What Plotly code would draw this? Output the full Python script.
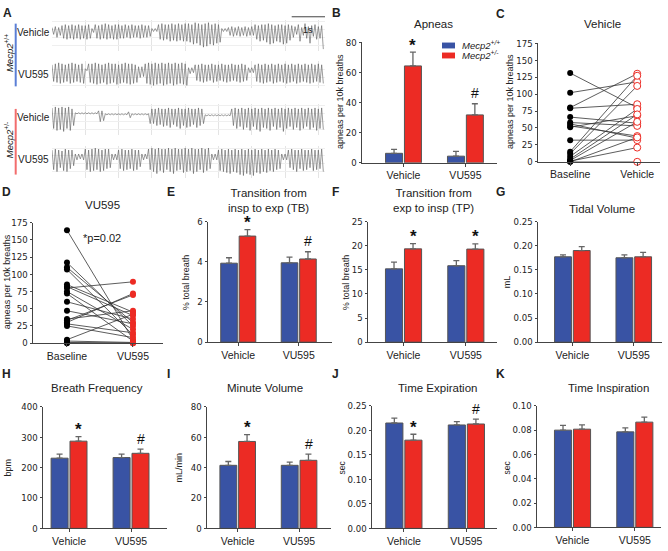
import plotly.graph_objects as go

W, H = 668, 551
FONT = "Liberation Sans, Arial, sans-serif"
NFONT = "Liberation Sans Narrow, Arial Narrow, DejaVu Sans Condensed, Liberation Sans, sans-serif"
BLUE = "#3953a4"
RED = "#ec2b24"
AX = "#444444"

# ---------------- Panel A: plethysmography traces (per-breath peak / trough, px-like units) ----------------
dt = 0.05
wt_veh_up = [2,3,2, 4,5,4,5,4,5,4,4,5, 1, 5,4,5,6,5,4,5,5,4,5,4,5,4,4,5,4,4, 1,1,
             5,6,5,5,6,5,6,5,6, 6,5,7,6,5,6,7,5,6,5, 1,1, 2,3,2,3,2,3,2,3,
             5,4,5,5,6,5,4,5,5,4,5, 4,3,5,2,6,3,4,5,3,4]
wt_veh_dn = [-5,-8,-6, -9,-10,-9,-10,-9,-10,-9,-10,-9, -3,
             -9,-10,-9,-10,-9,-10,-10,-9,-9,-8,-9,-8,-8,-9,-8,-8,-7, -2,-2,
             -10,-11,-10,-12,-11,-12,-11,-12,-12, -13,-15,-14,-16,-18,-17,-15,-16,-14,-13, -2,-2,
             -6,-7,-6,-7,-6,-7,-6,-6, -10,-12,-11,-13,-15,-14,-12,-13,-15,-14,-11,
             -8,-5,-12,-6,-9,-14,-7,-10,-9,-20]
wt_vu_up = [5,6,7,6,5,6,7,6,5,6, 1, 6,6,7,6,5,6,7,6,6,5,6,7,6,6,5, 3,3,
            6,7,6,7,6,7,6,7,6,7,6,7,6, 2,2, 5,5,6,5,5,6,5,5,6,5,5,6,5,5,6,5, 2,2,
            5,6,5,6,5,6,5,6,5,6,5,6,5,6,5,6,5,6,5,6,5]
wt_vu_dn = [-12,-13,-14,-13,-12,-14,-13,-12,-13,-14, -1,
            -13,-14,-15,-14,-13,-15,-14,-13,-15,-14,-13,-14,-15,-14,-13, -8,-7,
            -14,-15,-16,-15,-14,-16,-15,-14,-16,-15,-14,-15,-16, -4,-3,
            -11,-12,-13,-12,-11,-13,-12,-11,-12,-13,-12,-11,-12,-13,-12,-11, -3,-3,
            -12,-13,-14,-13,-12,-14,-13,-12,-13,-14,-13,-12,-14,-13,-12,-13,-14,-13,-12,-13,-14]
het_veh_up = [6,7,6,7,6,7,5, 1,1,1,1,1,1,1, 3,3, 0,0,0,0,0,0,0, 2, 0,0,0,0,0, 0,
              5,5,6,5,5,6,5,5,6,5,5,6,5,5,6,5, -1,-1,-1,-1,-1,-1,-1,-1,
              5,6,5,6,5,6,5,6,5,6,5,6,5,6,5,6,5,6,5,6,5,6,5,6,5,6,5,6]
het_veh_dn = [-15,-17,-16,-18,-15,-17,-12, 0,0,0,0,0,0,0, -8,-7, -1,-1,-1,-1,-1,-1,-1, -4,
              -1,-1,-1,-1,-1, -10,
              -10,-12,-11,-13,-12,-14,-11,-13,-15,-12,-14,-13,-11,-14,-12,-10,
              -2,-2,-2,-2,-2,-2,-2,-2,
              -12,-15,-13,-16,-14,-17,-13,-16,-18,-14,-15,-17,-13,-16,-14,-18,-15,-13,-16,-14,
              -17,-15,-13,-16,-14,-17,-15,-16]
het_vu_up = [6,7,6,5,7,6,6, 2,2,2, 7,6,7,8,7,6,7,7, 2,2, 6,7,6,6,7,6,6, 2,2,
             7,8,7,8,7,7,8,7,8,7,7,8,7,8,7,7,8,7,8, 2,2,
             6,7,6,7,6,7,6,7,6,7,6,7,6,7,6,7,6,7,6, 2,2, 6,7,6,6,7,6,6,7,6,6,7]
het_vu_dn = [-14,-16,-12,-15,-16,-13,-10, -4,-3,-4, -14,-16,-15,-14,-16,-15,-13,-12, -4,-4,
             -13,-15,-14,-13,-15,-14,-11, -4,-3,
             -14,-16,-18,-15,-17,-14,-16,-18,-15,-14,-17,-16,-15,-18,-16,-14,-17,-15,-13, -4,-4,
             -15,-16,-17,-18,-16,-17,-19,-20,-18,-19,-20,-17,-18,-16,-17,-15,-16,-14,-13, -4,-4,
             -12,-14,-16,-13,-15,-14,-12,-15,-14,-13,-16]

# ---------------- Bar panels ----------------
groups = ["Vehicle", "VU595"]
apnea_wt, apnea_wt_err = [6.3, 4.4], [2.6, 3.2]
apnea_het, apnea_het_err = [64.3, 31.8], [9.2, 7.4]
tb_wt, tb_wt_err = [3.93, 3.95], [0.27, 0.28]
tb_het, tb_het_err = [5.28, 4.14], [0.32, 0.36]
tp_wt, tp_wt_err = [15.2, 15.85], [1.4, 1.05]
tp_het, tp_het_err = [19.35, 19.3], [1.1, 1.1]
tv_wt, tv_wt_err = [0.177, 0.175], [0.004, 0.006]
tv_het, tv_het_err = [0.190, 0.177], [0.008, 0.009]
bf_wt, bf_wt_err = [231, 233], [13, 11]
bf_het, bf_het_err = [287, 247], [15, 14]
mv_wt, mv_wt_err = [41.5, 41.5], [2.5, 2.1]
mv_het, mv_het_err = [57.2, 44.8], [4.5, 4.0]
te_wt, te_wt_err = [0.215, 0.211], [0.010, 0.007]
te_het, te_het_err = [0.180, 0.213], [0.012, 0.010]
ti_wt, ti_wt_err = [0.0800, 0.0786], [0.0040, 0.0033]
ti_het, ti_het_err = [0.0808, 0.0866], [0.0035, 0.0042]

# ---------------- Paired panels C / D ----------------
c_baseline = [131, 102, 80, 79, 66, 58, 56, 53, 51, 32, 15, 12, 8, 4, 2, 1, 0, 0]
c_vehicle = [80, 118, 130, 85, 57, 53, 35, 38, 68, 32, 127, 112, 78, 70, 59, 21, 0, 36]
d_baseline = [164, 117, 110, 107, 85, 82, 80, 75, 72, 60, 47, 35, 33, 30, 28, 25, 5, 3, 1, 0]
d_vu595 = [5, 25, 30, 12, 45, 40, 89, 20, 3, 35, 28, 47, 70, 72, 15, 8, 42, 1, 0, 0]

fig = go.Figure()
layout = dict(width=W, height=H, margin=dict(l=0, r=0, t=0, b=0),
              paper_bgcolor="white", plot_bgcolor="white", showlegend=False,
              font=dict(family=FONT, size=10, color="#222"),
              barmode="group", bargap=0.39, bargroupgap=0.1)
annotations, shapes = [], []
n_ax = [0]


def axes(x0, x1, ytop, ybot, xa, ya):
    n_ax[0] += 1
    s = "" if n_ax[0] == 1 else str(n_ax[0])
    layout["xaxis" + s] = dict(domain=[x0 / W, x1 / W], anchor="y" + s, **xa)
    layout["yaxis" + s] = dict(domain=[1 - ybot / H, 1 - ytop / H], anchor="x" + s, **ya)
    return "x" + s, "y" + s


def ann(text, x, y, size=10, bold=False, angle=0, xanchor="center", yanchor="middle", color="#222", family=FONT):
    if bold:
        text = "<b>" + text + "</b>"
    annotations.append(dict(text=text, x=x / W, y=1 - y / H, xref="paper", yref="paper",
                            showarrow=False, textangle=angle, xanchor=xanchor, yanchor=yanchor,
                            font=dict(size=size, color=color, family=family)))


# ---- Panel A ----
trace_rows = [(wt_veh_up, wt_veh_dn, 14, 46, [-22, 10]),
              (wt_vu_up, wt_vu_dn, 56, 84, [-19, 9]),
              (het_veh_up, het_veh_dn, 100, 132, [-22, 10]),
              (het_vu_up, het_vu_dn, 143, 175, [-22, 10])]
first_ax = None
for up, dn, yt, yb, yr in trace_rows:
    xa = dict(range=[0, 8.2], showgrid=True, gridcolor="#e4e4e4", gridwidth=1, dtick=1, tick0=0,
              showticklabels=False, zeroline=False, showline=False, ticks="")
    ya = dict(range=yr, showgrid=True, gridcolor="#efefef", dtick=8, tick0=0,
              showticklabels=False, zeroline=False, showline=False, ticks="")
    xr, yrf = axes(52, 325, yt, yb, xa, ya)
    if first_ax is None:
        first_ax = xr
    sig = []
    for u, d in zip(up, dn):
        sig += [u, d]
    t = [k * dt for k in range(len(sig))]
    fig.add_trace(go.Scatter(x=t, y=sig, mode="lines", line=dict(color="#5a5a5a", width=0.6),
                             xaxis=xr, yaxis=yrf, hoverinfo="skip"))

# scale bar (1 s) in trace time units
shapes.append(dict(type="line", xref=first_ax, yref="paper", x0=7.2, x1=8.2,
                   y0=1 - 11 / H, y1=1 - 11 / H, line=dict(color="#444", width=1)))
annotations.append(dict(text="1s", xref=first_ax, yref="paper", x=7.7, y=1 - 17 / H, showarrow=False,
                        font=dict(size=9, family=FONT, color="#222")))
shapes.append(dict(type="line", xref="paper", yref="paper", x0=15.7 / W, x1=15.7 / W,
                   y0=1 - 18 / H, y1=1 - 82 / H, line=dict(color="#5b7fd6", width=2)))
shapes.append(dict(type="line", xref="paper", yref="paper", x0=15.7 / W, x1=15.7 / W,
                   y0=1 - 105 / H, y1=1 - 172 / H, line=dict(color="#f26d6d", width=2)))
ann("<i>Mecp2</i><sup>+/+</sup>", 9, 48, size=9.5, angle=-90)
ann("<i>Mecp2</i><sup>+/-</sup>", 9, 137, size=9.5, angle=-90)
for txt, yy in [("Vehicle", 27), ("VU595", 70), ("Vehicle", 114), ("VU595", 157)]:
    ann(txt, 33, yy, size=10)

# ---- bar panels ----
common_y = dict(showline=True, linecolor=AX, linewidth=1, ticks="outside", ticklen=2.5, tickcolor=AX,
                tickwidth=1, showgrid=False, zeroline=False,
                tickfont=dict(size=9.5, color="#222", family=NFONT))


def xcat(rng, cats):
    return dict(type="category", categoryorder="array", categoryarray=cats, range=rng,
                showline=True, linecolor=AX, linewidth=1, ticks="outside", ticklen=3, tickcolor=AX,
                showgrid=False, zeroline=False, tickfont=dict(size=10.5, color="#222"))


def bar_panel(x0, x1, ytop, ybot, xrng, yrange, dtick, fmt, wt, wte, het, hete, sig):
    ya = dict(common_y, range=yrange, dtick=dtick, tick0=0, tickformat=fmt)
    xr, yr = axes(x0, x1, ytop, ybot, xcat(xrng, groups), ya)
    for vals, errs, col in [(wt, wte, BLUE), (het, hete, RED)]:
        fig.add_trace(go.Bar(x=groups, y=vals, xaxis=xr, yaxis=yr,
                             marker=dict(color=col, line=dict(color="#555", width=1)),
                             error_y=dict(type="data", array=errs, arrayminus=[0] * len(errs),
                                          symmetric=False, color="#666", thickness=1.3, width=3),
                             hoverinfo="skip"))
    for g, s in sig:
        i = groups.index(g)
        top = het[i] + hete[i]
        if s == "*":
            annotations.append(dict(text="<b>*</b>", xref=xr, yref=yr, x=g, y=top, xshift=9.5,
                                    yshift=18.5, yanchor="top", showarrow=False,
                                    font=dict(size=17, family=FONT, color="#111")))
        else:
            annotations.append(dict(text=s, xref=xr, yref=yr, x=g, y=top, xshift=9.5,
                                    yshift=0.5, yanchor="bottom", showarrow=False,
                                    font=dict(size=14, family=FONT, color="#111")))


bar_panel(362, 497, 37, 160, [-0.67, 1.51], [0, 80], 20, "", apnea_wt, apnea_wt_err, apnea_het, apnea_het_err,
          [("Vehicle", "*"), ("VU595", "#")])
bar_panel(208, 332, 220, 343, [-0.5, 1.55], [0, 6], 2, "", tb_wt, tb_wt_err, tb_het, tb_het_err,
          [("Vehicle", "*"), ("VU595", "#")])
bar_panel(368, 497, 220, 343, [-0.57, 1.5], [0, 25], 5, "", tp_wt, tp_wt_err, tp_het, tp_het_err,
          [("Vehicle", "*"), ("VU595", "*")])
bar_panel(538, 662, 220, 343, [-0.56, 1.46], [0, 0.25], 0.05, ".2f", tv_wt, tv_wt_err, tv_het, tv_het_err, [])
bar_panel(43, 167, 409, 533, [-0.42, 1.58], [0, 400], 100, "", bf_wt, bf_wt_err, bf_het, bf_het_err,
          [("Vehicle", "*"), ("VU595", "#")])
bar_panel(207, 331, 409, 533, [-0.5, 1.52], [0, 80], 20, "", mv_wt, mv_wt_err, mv_het, mv_het_err,
          [("Vehicle", "*"), ("VU595", "#")])
bar_panel(372, 497, 408, 533, [-0.51, 1.49], [0, 0.25], 0.05, ".2f", te_wt, te_wt_err, te_het, te_het_err,
          [("Vehicle", "*"), ("VU595", "#")])
bar_panel(537, 661, 408, 532, [-0.57, 1.42], [0, 0.10], 0.02, ".2f", ti_wt, ti_wt_err, ti_het, ti_het_err, [])


# ---- paired panels ----
def paired_panel(x0, x1, ytop, ybot, xrng, cats, base, post, post_marker):
    ya = dict(common_y, range=[0, 175], dtick=25, tick0=0)
    xr, yr = axes(x0, x1, ytop, ybot, xcat(xrng, cats), ya)
    lx, ly = [], []
    for b, p in zip(base, post):
        lx += [cats[0], cats[1], None]
        ly += [b, p, None]
    fig.add_trace(go.Scatter(x=lx, y=ly, mode="lines", line=dict(color="#333", width=0.8),
                             xaxis=xr, yaxis=yr, hoverinfo="skip", cliponaxis=False))
    fig.add_trace(go.Scatter(x=[cats[0]] * len(base), y=base, mode="markers",
                             marker=dict(color="#000", size=6), xaxis=xr, yaxis=yr,
                             hoverinfo="skip", cliponaxis=False))
    fig.add_trace(go.Scatter(x=[cats[1]] * len(post), y=post, mode="markers",
                             marker=post_marker, xaxis=xr, yaxis=yr,
                             hoverinfo="skip", cliponaxis=False))
    return xr, yr


paired_panel(538, 660, 38, 159, [-0.48, 1.34], ["Baseline", "Vehicle"], c_baseline, c_vehicle,
             dict(color="white", size=7, line=dict(color=RED, width=1)))
paired_panel(33, 163, 221, 344, [-0.515, 1.455], ["Baseline", "VU595"], d_baseline, d_vu595,
             dict(color=RED, size=6))

# ---- titles, letters, y-axis titles ----
for L, x, y in [("A", 1, 7), ("B", 330, 7), ("C", 494, 8), ("D", 0, 190), ("E", 165, 190),
                ("F", 330, 190), ("G", 494, 190), ("H", 0, 375), ("I", 165, 375), ("J", 330, 375),
                ("K", 494, 375)]:
    ann(L, x, y, size=12, bold=True, xanchor="left")
ann("Apneas", 433, 18, size=11.5)
ann("Vehicle", 602, 18, size=11.5)
ann("VU595", 102, 203, size=11.5)
ann("Transition from<br>insp to exp (TB)", 268, 198, size=11.5)
ann("Transition from<br>exp to insp (TP)", 433, 198, size=11.5)
ann("Tidal Volume", 602, 207, size=11.5)
ann("Breath Frequency", 97, 390, size=11.5)
ann("Minute Volume", 265, 390, size=11.5)
ann("Time Expiration", 437, 390, size=11.5)
ann("Time Inspiration", 608, 390, size=11.5)
ann("*p=0.02", 102, 237, size=11)

ann("apneas per 10k breaths", 340, 98, size=9, angle=-90)
ann("apneas per 10k breaths", 510, 98, size=9, angle=-90)
ann("apneas per 10k breaths", 7, 282, size=9, angle=-90)
ann("% total breath", 186, 282, size=9, angle=-90)
ann("% total breath", 346, 282, size=9, angle=-90)
ann("mL", 507, 282, size=9, angle=-90)
ann("bpm", 8, 471, size=9, angle=-90)
ann("mL/min", 179, 471, size=9, angle=-90)
ann("sec", 342, 471, size=8.5, angle=-90)
ann("sec", 507, 471, size=8.5, angle=-90)

# ---- legend for B ----
for col, yy, lab in [(BLUE, 40.3, "+/+"), (RED, 50.5, "+/-")]:
    shapes.append(dict(type="rect", xref="paper", yref="paper", x0=442 / W, x1=455 / W,
                       y0=1 - (yy + 3) / H, y1=1 - (yy - 3) / H, fillcolor=col, line=dict(width=0)))
    ann("<i>Mecp2<sup>" + lab + "</sup></i>", 460, yy, size=9.5, xanchor="left")

layout["annotations"] = annotations
layout["shapes"] = shapes
fig.update_layout(**layout)
fig.write_html("out.html", config={"displayModeBar": False},
               post_script="document.body.style.margin='0';document.body.style.padding='0';"
                           "document.body.style.overflow='hidden';")
